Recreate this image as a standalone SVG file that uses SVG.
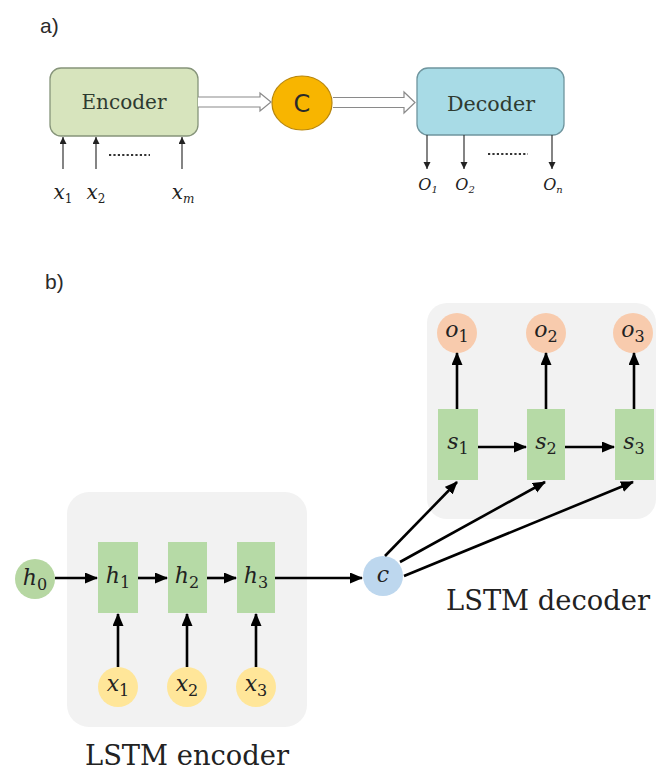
<svg xmlns="http://www.w3.org/2000/svg" width="657" height="773" viewBox="0 0 657 773">
<style>
.lbl{font-family:"Liberation Sans",Arial,sans-serif;font-size:21px;fill:#2a2a2a}
.serif{font-family:"DejaVu Serif",serif}
.box{fill:#2e3a30}
.it{font-style:italic;fill:#222}
.sub{font-style:normal}
.big{font-size:27px;fill:#222}
.thin{stroke:#333;stroke-width:1.2;fill:none}
.thick{stroke:#000;stroke-width:2.6;fill:none}
.hollow{stroke:#8a8a8a;stroke-width:1.2;fill:#fff}
.dots{stroke:#333;stroke-width:2.2;stroke-dasharray:2.2 2.2;fill:none}
.hrect{fill:#b6daa6}
</style>
<defs>
<marker id="sm" markerUnits="userSpaceOnUse" markerWidth="8" markerHeight="8" refX="7" refY="3.5" orient="auto">
<path d="M0,0 L7,3.5 L0,7 z" fill="#222"/>
</marker>
<marker id="bg" markerUnits="userSpaceOnUse" markerWidth="14" markerHeight="12" refX="12" refY="5.5" orient="auto">
<path d="M0,0 L13,5.5 L0,11 z" fill="#000"/>
</marker>
</defs>

<!-- panel a -->
<text class="lbl" x="40" y="33">a)</text>

<g id="encoder">
<rect x="50" y="68" width="148" height="68" rx="11" fill="#d7e4bd" stroke="#86947a" stroke-width="1.3"/>
<text class="serif box" x="124" y="109" font-size="20" text-anchor="middle" textLength="85" lengthAdjust="spacingAndGlyphs">Encoder</text>
</g>
<g id="C">
<ellipse cx="302" cy="103" rx="30" ry="27" fill="#f8b500" stroke="#b8860b" stroke-width="1.2"/>
<text x="302" y="112" font-family="DejaVu Sans, sans-serif" font-size="24" text-anchor="middle" fill="#2a2a2a">C</text>
</g>
<g id="decoder">
<rect x="417" y="68" width="147" height="67" rx="11" fill="#a8dbe6" stroke="#6f959e" stroke-width="1.3"/>
<text class="serif box" x="491" y="111" font-size="20" text-anchor="middle" textLength="88" lengthAdjust="spacingAndGlyphs">Decoder</text>
</g>

<g id="a-inputs" class="serif">
<text class="it" x="63" y="199" font-size="20" text-anchor="middle">x<tspan class="sub" font-size="12" dy="4">1</tspan></text>
<text class="it" x="96" y="199" font-size="20" text-anchor="middle">x<tspan class="sub" font-size="12" dy="4">2</tspan></text>
<text class="it" x="183" y="199" font-size="20" text-anchor="middle">x<tspan font-size="12" dy="4">m</tspan></text>
</g>
<g id="a-outputs" class="serif">
<text class="it" x="428" y="190" font-size="16" text-anchor="middle">O<tspan font-size="10" dy="3">1</tspan></text>
<text class="it" x="465" y="190" font-size="16" text-anchor="middle">O<tspan font-size="10" dy="3">2</tspan></text>
<text class="it" x="553" y="190" font-size="16" text-anchor="middle">O<tspan font-size="10" dy="3">n</tspan></text>
</g>

<g id="a-connectors">
<path class="hollow" d="M198,97 L260,97 L260,93 L271,102 L260,111 L260,107 L198,107"/>
<path class="hollow" d="M333,97.5 L404,97.5 L404,92 L415,102.5 L404,113 L404,107.5 L333,107.5"/>
<line class="thin" x1="63" y1="169" x2="63" y2="137" marker-end="url(#sm)"/>
<line class="thin" x1="96" y1="169" x2="96" y2="137" marker-end="url(#sm)"/>
<line class="thin" x1="182" y1="169" x2="182" y2="137" marker-end="url(#sm)"/>
<line class="dots" x1="109" y1="155" x2="150" y2="155"/>
<line class="thin" x1="427" y1="135" x2="427" y2="169" marker-end="url(#sm)"/>
<line class="thin" x1="464" y1="135" x2="464" y2="169" marker-end="url(#sm)"/>
<line class="thin" x1="552" y1="135" x2="552" y2="169" marker-end="url(#sm)"/>
<line class="dots" x1="488" y1="154" x2="528" y2="154"/>
</g>

<!-- panel b -->
<text class="lbl" x="45" y="289">b)</text>

<g id="enc-bg"><rect x="67" y="492" width="240" height="235" rx="22" fill="#f2f2f2"/></g>
<g id="dec-bg"><rect x="427" y="303" width="229" height="216" rx="20" fill="#f2f2f2"/></g>

<g class="serif">
<g id="h0">
<circle cx="35" cy="579" r="20" fill="#b6d7a2"/>
<text class="it" x="35" y="585" font-size="22" text-anchor="middle">h<tspan class="sub" font-size="16" dy="5">0</tspan></text>
</g>
<g id="h1">
<rect class="hrect" x="98" y="542" width="40" height="71"/>
<text class="it" x="118" y="583" font-size="22" text-anchor="middle">h<tspan class="sub" font-size="16" dy="5">1</tspan></text>
</g>
<g id="h2">
<rect class="hrect" x="168" y="542" width="39" height="71"/>
<text class="it" x="187" y="583" font-size="22" text-anchor="middle">h<tspan class="sub" font-size="16" dy="5">2</tspan></text>
</g>
<g id="h3">
<rect class="hrect" x="237" y="542" width="38" height="71"/>
<text class="it" x="256" y="583" font-size="22" text-anchor="middle">h<tspan class="sub" font-size="16" dy="5">3</tspan></text>
</g>
<g id="x1">
<circle cx="118" cy="687" r="20" fill="#ffe699"/>
<text class="it" x="118" y="691" font-size="22" text-anchor="middle">x<tspan class="sub" font-size="16" dy="5">1</tspan></text>
</g>
<g id="x2">
<circle cx="187" cy="687" r="20" fill="#ffe699"/>
<text class="it" x="187" y="691" font-size="22" text-anchor="middle">x<tspan class="sub" font-size="16" dy="5">2</tspan></text>
</g>
<g id="x3">
<circle cx="256" cy="687" r="20" fill="#ffe699"/>
<text class="it" x="256" y="691" font-size="22" text-anchor="middle">x<tspan class="sub" font-size="16" dy="5">3</tspan></text>
</g>
<g id="c">
<circle cx="383" cy="576" r="20" fill="#bdd7ee"/>
<text class="it" x="383" y="582" font-size="22" text-anchor="middle">c</text>
</g>
<g id="s1">
<rect class="hrect" x="438" y="409" width="40" height="71"/>
<text class="it" x="458" y="449" font-size="22" text-anchor="middle">s<tspan class="sub" font-size="16" dy="5">1</tspan></text>
</g>
<g id="s2">
<rect class="hrect" x="527" y="409" width="38" height="71"/>
<text class="it" x="546" y="449" font-size="22" text-anchor="middle">s<tspan class="sub" font-size="16" dy="5">2</tspan></text>
</g>
<g id="s3">
<rect class="hrect" x="615" y="409" width="39" height="71"/>
<text class="it" x="634" y="449" font-size="22" text-anchor="middle">s<tspan class="sub" font-size="16" dy="5">3</tspan></text>
</g>
<g id="o1">
<circle cx="457" cy="333" r="20" fill="#f8cbad"/>
<text class="it" x="457" y="337" font-size="22" text-anchor="middle">o<tspan class="sub" font-size="16" dy="5">1</tspan></text>
</g>
<g id="o2">
<circle cx="546" cy="333" r="20" fill="#f8cbad"/>
<text class="it" x="546" y="337" font-size="22" text-anchor="middle">o<tspan class="sub" font-size="16" dy="5">2</tspan></text>
</g>
<g id="o3">
<circle cx="633" cy="333" r="20" fill="#f8cbad"/>
<text class="it" x="633" y="337" font-size="22" text-anchor="middle">o<tspan class="sub" font-size="16" dy="5">3</tspan></text>
</g>
</g>

<g id="b-connectors">
<line class="thick" x1="55" y1="578" x2="97" y2="578" marker-end="url(#bg)"/>
<line class="thick" x1="138" y1="578" x2="167" y2="578" marker-end="url(#bg)"/>
<line class="thick" x1="207" y1="578" x2="236" y2="578" marker-end="url(#bg)"/>
<line class="thick" x1="275" y1="578" x2="362" y2="578" marker-end="url(#bg)"/>
<line class="thick" x1="118" y1="667" x2="118" y2="614" marker-end="url(#bg)"/>
<line class="thick" x1="187" y1="667" x2="187" y2="614" marker-end="url(#bg)"/>
<line class="thick" x1="256" y1="667" x2="256" y2="614" marker-end="url(#bg)"/>
<line class="thick" x1="457" y1="409" x2="457" y2="353" marker-end="url(#bg)"/>
<line class="thick" x1="546" y1="409" x2="546" y2="353" marker-end="url(#bg)"/>
<line class="thick" x1="634" y1="409" x2="634" y2="353" marker-end="url(#bg)"/>
<line class="thick" x1="478" y1="447" x2="526" y2="447" marker-end="url(#bg)"/>
<line class="thick" x1="565" y1="447" x2="614" y2="447" marker-end="url(#bg)"/>
<line class="thick" x1="385" y1="556" x2="457" y2="482" marker-end="url(#bg)"/>
<line class="thick" x1="400" y1="562" x2="545" y2="482" marker-end="url(#bg)"/>
<line class="thick" x1="404" y1="576" x2="633" y2="482" marker-end="url(#bg)"/>
</g>

<text class="serif big" x="85" y="765" textLength="204" lengthAdjust="spacingAndGlyphs">LSTM encoder</text>
<text class="serif big" x="446" y="610" textLength="204" lengthAdjust="spacingAndGlyphs">LSTM decoder</text>
</svg>
